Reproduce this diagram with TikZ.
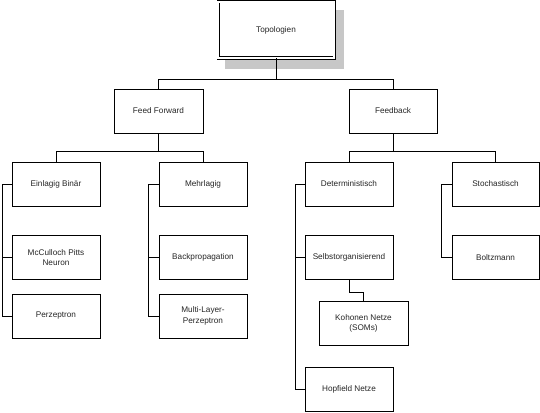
\documentclass[tikz,border=0pt]{standalone}
\usepackage{fontspec}
\setmainfont{Liberation Sans}
\begin{document}
\begin{tikzpicture}[x=1pt,y=-1pt,
  box/.style={draw=black,line width=0.8pt,fill=white,minimum width=88pt,minimum height=44pt,inner sep=0pt,align=center,font=\fontsize{8.2}{10.5}\selectfont,text=black!85},
  topbox/.style={box,minimum width=116pt,minimum height=56pt,double=white,double distance=1.6pt,line width=0.7pt},
  link/.style={draw=black,line width=0.8pt}]
\useasboundingbox (0,0) rectangle (540,412);
% shadow of the top box
\fill[black!22] (225,10) rectangle (344,69);
\node[topbox] (top) at (276,30) {Topologien};
\node[box,minimum width=89pt] (ff) at (158.5,111) {Feed Forward};
\node[box] (fb) at (393,111) {Feedback};
\node[box] (eb) at (56,184) {Einlagig Binär};
\node[box] (ml) at (203,184) {Mehrlagig};
\node[box] (mc) at (56,257.5) {McCulloch Pitts\\Neuron};
\node[box] (pz) at (56,316) {Perzeptron};
\node[box] (bp) at (203,257.5) {Backpropagation};
\node[box] (mlp) at (203,316) {Multi-Layer-\\Perzeptron};
\node[box] (dt) at (349,184) {Deterministisch};
\node[box,minimum width=87pt] (st) at (495.5,184) {Stochastisch};
\node[box] (so) at (349,257.5) {Selbstorganisierend};
\node[box,minimum width=89pt] (kn) at (363.5,323.5) {Kohonen Netze\\(SOMs)};
\node[box] (hf) at (349,389) {Hopfield Netze};
\node[box,minimum width=87pt] (bz) at (495.5,257.5) {Boltzmann};
% buses
\coordinate (b0) at (276,79);
\coordinate (b1) at (158.5,151);
\coordinate (b2) at (393,151);
\coordinate (s1) at (2,0);
\coordinate (s2) at (148,0);
\coordinate (s3) at (295,0);
\coordinate (s4) at (441,0);
\draw[link] (top.south) -- (b0);
\draw[link] (ff.north) |- (b0);
\draw[link] (fb.north) |- (b0);
\draw[link] (ff.south) -- (b1);
\draw[link] (eb.north) |- (b1);
\draw[link] (ml.north) |- (b1);
\draw[link] (fb.south) -- (b2);
\draw[link] (dt.north) |- (b2);
\draw[link] (st.north) |- (b2);
% spines
\draw[link] (eb.west) -- (eb.west -| s1) -- (pz.west -| s1) -- (pz.west);
\draw[link] (mc.west) -- (mc.west -| s1);
\draw[link] (ml.west) -- (ml.west -| s2) -- (mlp.west -| s2) -- (mlp.west);
\draw[link] (bp.west) -- (bp.west -| s2);
\draw[link] (dt.west) -- (dt.west -| s3) -- (hf.west -| s3) -- (hf.west);
\draw[link] (so.west) -- (so.west -| s3);
\draw[link] (st.west) -- (st.west -| s4) -- (bz.west -| s4) -- (bz.west);
\draw[link] (so.south) -- ++(0,12) -| (kn.north);
\end{tikzpicture}
\end{document}
